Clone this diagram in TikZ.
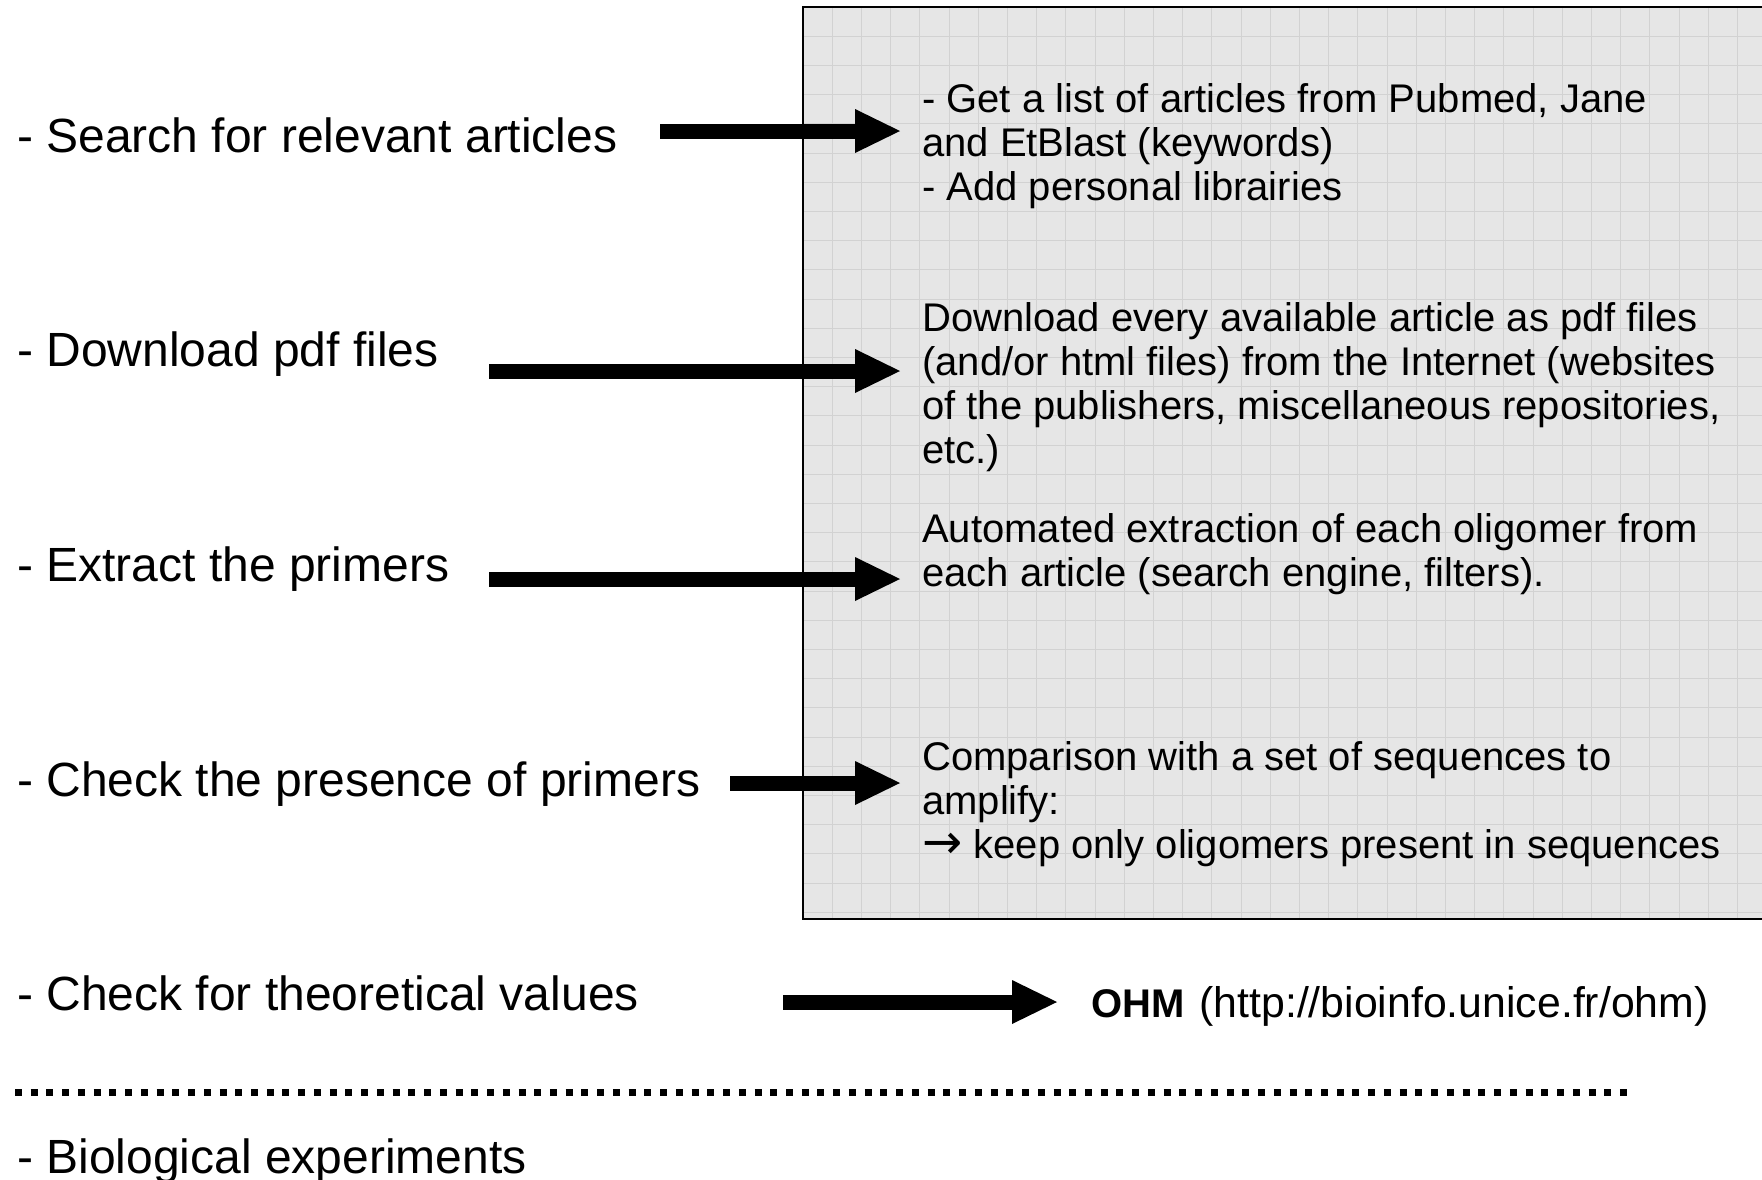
\documentclass[tikz,border=0pt]{standalone}
\usepackage{fontspec}
\setmainfont{Liberation Sans}
\newfontfamily\arrowfont{DejaVu Sans}
\usetikzlibrary{arrows.meta}
\definecolor{boxgray}{HTML}{E6E6E6}
\definecolor{gridgray}{HTML}{D2D2D2}
\begin{document}
\begin{tikzpicture}[x=1pt,y=-1pt,
  lefttext/.style={anchor=base west, inner sep=0pt, font=\fontsize{48}{52}\selectfont},
  righttext/.style={anchor=north west, inner sep=0pt, align=left, font=\fontsize{40}{44}\selectfont},
  bigarrow/.style={line width=15pt, -{Triangle[length=45pt,width=44pt,line width=0pt]}},
  gridline/.style={draw=gridgray, line width=1pt},
  dotline/.style={line width=7pt, dash pattern=on 7pt off 8.735pt}]
\useasboundingbox (0,0) rectangle (1762,1179);
\begin{scope}
\clip (0,0) rectangle (1762,1179);
% gray panel with grid
\fill[boxgray] (803,7) rectangle (1780,919);
\foreach \i in {1,...,33} \draw[gridline] (803+\i*29.2,7) -- (803+\i*29.2,919);
\foreach \j in {1,...,31} \draw[gridline] (803,7+\j*29.2) -- (1780,7+\j*29.2);
\draw[line width=2pt] (1780,7) -- (803,7) -- (803,919) -- (1780,919);
\end{scope}

% left labels
\node[lefttext] (l1) at (17,152) {- Search for relevant articles};
\node[lefttext] (l2) at (17,366) {- Download pdf files};
\node[lefttext] (l3) at (17,581) {- Extract the primers};
\node[lefttext] (l4) at (17,796) {- Check the presence of primers};
\node[lefttext] (l5) at (17,1010) {- Check for theoretical values};
\node[lefttext] (l6) at (17,1173) {- Biological experiments};

% right texts
\node[righttext] (r1) at (922,83) {- Get a list of articles from Pubmed, Jane\\and EtBlast (keywords)\\- Add personal librairies};
\node[righttext] (r2) at (922,302) {Download every available article as pdf files\\(and/or html files) from the Internet (websites\\of the publishers, miscellaneous repositories,\\etc.)};
\node[righttext] (r3) at (922,513) {Automated extraction of each oligomer from\\each article (search engine, filters).};
\node[righttext] (r4) at (922,741) {Comparison with a set of sequences to\\amplify:\\{\arrowfont\fontsize{48}{44}\selectfont →} keep only oligomers present in sequences};
\node[anchor=base west, inner sep=0pt, font=\fontsize{40}{44}\selectfont] (r5) at (1091,1017) {\textbf{OHM}\hspace{15pt}{\fontsize{42.8}{44}\selectfont(http://bioinfo.unice.fr/ohm)}};

% arrows
\coordinate (a1s) at (660,131); \coordinate (a1e) at (900,131);
\coordinate (a2s) at (489,371); \coordinate (a2e) at (900,371);
\coordinate (a3s) at (489,579); \coordinate (a3e) at (900,579);
\coordinate (a4s) at (730,783); \coordinate (a4e) at (900,783);
\coordinate (a5s) at (783,1002); \coordinate (a5e) at (1057,1002);
\draw[bigarrow] (a1s) -- (a1e);
\draw[bigarrow] (a2s) -- (a2e);
\draw[bigarrow] (a3s) -- (a3e);
\draw[bigarrow] (a4s) -- (a4e);
\draw[bigarrow] (a5s) -- (a5e);

% dotted separator
\coordinate (d1) at (15,1092); \coordinate (d2) at (1630,1092);
\draw[dotline] (d1) -- (d2);
\end{tikzpicture}
\end{document}
